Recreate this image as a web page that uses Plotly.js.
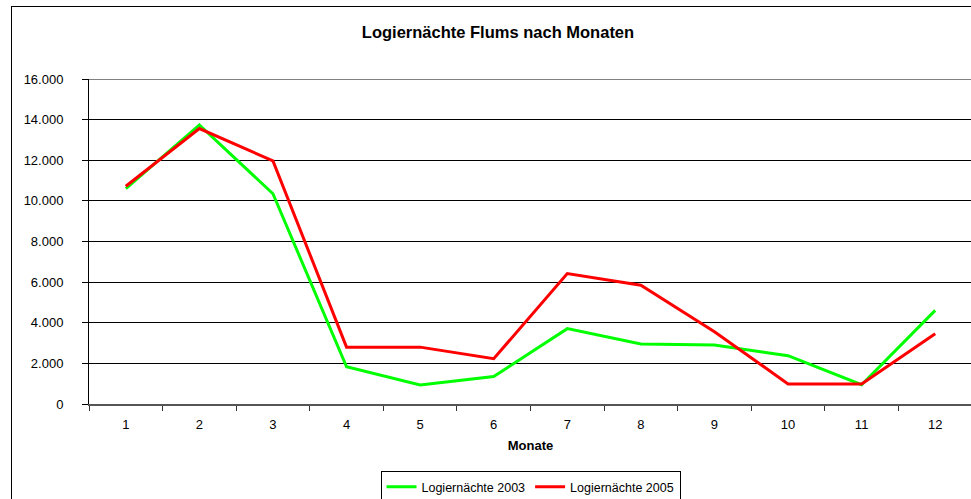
<!DOCTYPE html>
<html>
<head>
<meta charset="utf-8">
<script src="https://cdn.plot.ly/plotly-3.0.1.min.js"></script>
<style>
html,body{margin:0;padding:0;width:971px;height:499px;overflow:hidden;background:#fff;}
#frame{position:absolute;left:11px;top:6px;width:1100px;height:700px;border:1px solid #000;box-sizing:border-box;}
#chart{position:absolute;left:0;top:0;width:990px;height:499px;}
</style>
</head>
<body>
<div id="frame"></div>
<div id="chart"></div>
<script>
const months = ["1","2","3","4","5","6","7","8","9","10","11","12"];
const nights2003 = [10600, 13740, 10350, 1830, 940, 1350, 3710, 2950, 2900, 2380, 950, 4610];
const nights2005 = [10720, 13560, 11970, 2800, 2800, 2230, 6420, 5850, 3560, 990, 990, 3460];
const yTicks = [0, 2000, 4000, 6000, 8000, 10000, 12000, 14000, 16000];
const yTickLabels = ["0", "2.000", "4.000", "6.000", "8.000", "10.000", "12.000", "14.000", "16.000"];

const font = "Liberation Sans, Arial, sans-serif";
const traces = [
  {x: months, y: nights2003, type: "scatter", mode: "lines", name: "Logiernächte 2003",
   line: {color: "#00ff00", width: 3}},
  {x: months, y: nights2005, type: "scatter", mode: "lines", name: "Logiernächte 2005",
   line: {color: "#ff0000", width: 3}}
];
const layout = {
  width: 990, height: 499,
  margin: {l: 89, r: 18, t: 79, b: 95, autoexpand: false},
  paper_bgcolor: "rgba(0,0,0,0)",
  plot_bgcolor: "rgba(0,0,0,0)",
  font: {family: font, size: 13, color: "#000"},
  title: {text: "<b>Logiernächte Flums nach Monaten</b>", font: {family: font, size: 16.5, color: "#000"},
          x: 498 / 990, xref: "container", y: 1 - 32/499, yref: "container", xanchor: "center", yanchor: "middle"},
  xaxis: {
    type: "category", range: [-0.5, 11.5], tickson: "boundaries",
    ticks: "outside", ticklen: 5, tickcolor: "#333", tickwidth: 1,
    showline: true, linecolor: "#555", linewidth: 1.5,
    showgrid: false, zeroline: false, fixedrange: true,
    ticklabelstandoff: 8,
    tickfont: {family: font, size: 13},
    title: {text: "<b>Monate</b>", font: {family: font, size: 13}, standoff: 10}
  },
  yaxis: {
    range: [0, 16000], tickvals: yTicks, ticktext: yTickLabels,
    ticks: "outside", ticklen: 6, tickcolor: "#000",
    showline: true, linecolor: "#000", linewidth: 1,
    showgrid: true, gridcolor: "#000", gridwidth: 1, zeroline: false,
    ticklabelstandoff: 16,
    tickfont: {family: font, size: 13}
  },
  shapes: [
    {type: "line", xref: "paper", yref: "y", x0: 0, x1: 1, y0: 16000, y1: 16000,
     line: {color: "#808080", width: 2}}
  ],
  showlegend: true,
  legend: {
    orientation: "h", x: 0.50, xanchor: "center", y: (404 - 487) / 325, yanchor: "middle",
    bordercolor: "#000", borderwidth: 1, bgcolor: "#fff",
    font: {family: font, size: 12.5}, itemwidth: 30, tracegroupgap: 0
  }
};
Plotly.newPlot("chart", traces, layout, {displayModeBar: false, staticPlot: true});
</script>
</body>
</html>
